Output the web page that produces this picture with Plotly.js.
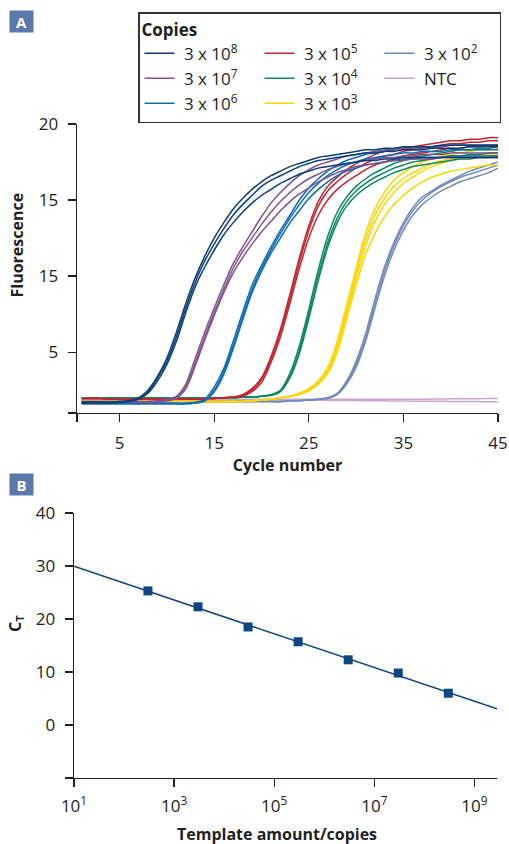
<!DOCTYPE html>
<html>
<head>
<meta charset="utf-8">
<script src="https://cdn.plot.ly/plotly-3.0.1.min.js"></script>
<style>
  html, body { margin: 0; padding: 0; background: #fff; }
  #chart { width: 509px; height: 844px; }
</style>
</head>
<body>
<div id="chart"></div>
<script>
// ---------- Panel A data: amplification plots (fluorescence vs cycle) ----------
const cycles = [1,2,3,4,5,6,7,8,9,10,11,12,13,14,15,16,17,18,19,20,21,22,23,24,25,26,27,28,29,30,31,32,33,34,35,36,37,38,39,40,41,42,43,44,45];

const copies3e8 = [
  [1.7,1.7,1.7,1.7,1.75,1.8,2.0,2.5,3.4,4.6,6.3,8.2,9.9,11.3,12.5,13.5,14.4,15.1,15.7,16.2,16.6,16.9,17.2,17.4,17.6,17.8,17.9,18.0,18.1,18.2,18.3,18.3,18.4,18.4,18.5,18.5,18.5,18.5,18.6,18.6,18.6,18.6,18.6,18.6,18.6],
  [1.7,1.7,1.7,1.7,1.75,1.8,1.95,2.4,3.3,4.4,6.0,7.9,9.6,11.0,12.1,13.1,14.0,14.7,15.3,15.9,16.3,16.6,16.9,17.2,17.4,17.6,17.7,17.8,17.9,18.0,18.1,18.1,18.2,18.2,18.3,18.3,18.3,18.4,18.4,18.4,18.4,18.5,18.5,18.5,18.5],
  [1.65,1.65,1.65,1.65,1.7,1.75,1.9,2.3,3.1,4.2,5.7,7.6,9.3,10.6,11.7,12.7,13.5,14.2,14.8,15.3,15.7,16.1,16.4,16.7,16.9,17.1,17.2,17.3,17.4,17.5,17.6,17.6,17.7,17.7,17.8,17.8,17.8,17.8,17.8,17.8,17.8,17.8,17.8,17.8,17.8]
];
const copies3e7 = [
  [1.75,1.75,1.75,1.75,1.75,1.75,1.75,1.75,1.8,1.9,2.1,2.9,4.6,6.3,7.9,9.4,10.8,11.9,12.9,13.9,14.8,15.5,16.1,16.6,17.0,17.3,17.5,17.7,17.9,18.0,18.1,18.2,18.3,18.3,18.4,18.4,18.5,18.5,18.5,18.6,18.6,18.6,18.6,18.6,18.6],
  [1.7,1.7,1.7,1.7,1.7,1.7,1.7,1.7,1.75,1.85,2.0,2.7,4.3,6.0,7.6,9.1,10.5,11.6,12.5,13.4,14.2,14.9,15.5,16.0,16.4,16.7,17.0,17.2,17.4,17.5,17.6,17.7,17.8,17.8,17.9,17.9,18.0,18.0,18.0,18.1,18.1,18.1,18.1,18.1,18.1],
  [1.7,1.7,1.7,1.7,1.7,1.7,1.7,1.7,1.7,1.8,1.95,2.6,4.1,5.8,7.4,8.9,10.2,11.2,12.1,12.9,13.6,14.3,14.9,15.4,15.8,16.2,16.5,16.8,17.0,17.2,17.3,17.4,17.5,17.6,17.6,17.7,17.7,17.7,17.8,17.8,17.8,17.8,17.8,17.8,17.8]
];
const copies3e6 = [
  [1.65,1.65,1.65,1.65,1.65,1.65,1.65,1.65,1.65,1.65,1.65,1.65,1.7,1.9,2.7,3.9,5.7,7.6,9.4,10.7,11.9,13.0,14.0,15.0,15.8,16.4,16.9,17.3,17.6,17.8,18.0,18.1,18.2,18.3,18.4,18.4,18.5,18.5,18.5,18.6,18.6,18.6,18.6,18.6,18.6],
  [1.6,1.6,1.6,1.6,1.6,1.6,1.6,1.6,1.6,1.6,1.6,1.6,1.65,1.8,2.5,3.7,5.4,7.3,9.1,10.5,11.7,12.8,13.8,14.7,15.5,16.1,16.6,17.0,17.3,17.5,17.7,17.8,17.9,18.0,18.1,18.1,18.2,18.2,18.2,18.3,18.3,18.3,18.3,18.3,18.3],
  [1.6,1.6,1.6,1.6,1.6,1.6,1.6,1.6,1.6,1.6,1.6,1.6,1.65,1.8,2.4,3.5,5.2,7.1,8.9,10.3,11.5,12.5,13.5,14.3,15.1,15.7,16.2,16.6,16.9,17.1,17.3,17.4,17.5,17.6,17.7,17.7,17.8,17.8,17.8,17.9,17.9,17.9,17.9,17.9,17.9]
];
const copies3e5 = [
  [1.95,1.95,1.95,1.9,1.9,1.9,1.9,1.9,1.9,1.9,1.9,1.9,1.9,1.95,1.95,2.0,2.05,2.2,2.6,3.3,4.7,6.5,8.8,11.2,13.3,14.9,15.9,16.5,17.0,17.4,17.7,18.0,18.2,18.3,18.4,18.5,18.6,18.7,18.8,18.9,18.9,19.0,19.0,19.1,19.1],
  [1.95,1.95,1.95,1.9,1.9,1.9,1.9,1.9,1.9,1.9,1.9,1.9,1.9,1.95,1.95,2.0,2.05,2.15,2.5,3.2,4.5,6.3,8.5,10.9,13.0,14.6,15.6,16.2,16.7,17.1,17.4,17.7,17.9,18.0,18.2,18.3,18.4,18.5,18.6,18.7,18.7,18.8,18.8,18.9,18.9],
  [1.95,1.95,1.95,1.9,1.9,1.9,1.9,1.9,1.9,1.9,1.9,1.9,1.9,1.95,1.95,2.0,2.05,2.1,2.4,3.0,4.3,6.0,8.2,10.5,12.5,14.0,15.0,15.7,16.2,16.6,17.0,17.3,17.5,17.7,17.9,18.0,18.1,18.2,18.3,18.4,18.4,18.5,18.5,18.6,18.6]
];
const copies3e4 = [
  [2.0,2.0,2.0,2.0,2.0,2.0,2.0,2.0,2.0,2.0,2.0,2.0,2.0,2.0,2.0,2.0,2.0,2.05,2.05,2.1,2.2,2.5,3.6,5.4,7.8,10.4,12.6,14.2,15.2,15.9,16.4,16.8,17.1,17.4,17.6,17.8,17.9,18.0,18.1,18.2,18.3,18.3,18.4,18.4,18.5],
  [2.0,2.0,2.0,2.0,2.0,2.0,2.0,2.0,2.0,2.0,2.0,2.0,2.0,2.0,2.0,2.0,2.0,2.05,2.05,2.1,2.2,2.45,3.4,5.1,7.5,10.0,12.2,13.8,14.9,15.6,16.1,16.5,16.8,17.1,17.3,17.5,17.6,17.7,17.8,17.9,17.9,18.0,18.0,18.1,18.1],
  [2.0,2.0,2.0,2.0,2.0,2.0,2.0,2.0,2.0,2.0,2.0,2.0,2.0,2.0,2.0,2.0,2.0,2.05,2.05,2.1,2.15,2.4,3.3,4.9,7.2,9.7,11.9,13.5,14.6,15.3,15.8,16.2,16.5,16.8,17.0,17.2,17.3,17.4,17.5,17.6,17.7,17.7,17.8,17.8,17.9]
];
const copies3e3 = [
  [1.75,1.75,1.75,1.75,1.75,1.75,1.75,1.75,1.75,1.75,1.75,1.75,1.75,1.75,1.75,1.75,1.75,1.75,1.8,1.85,1.9,2.0,2.1,2.3,2.6,3.1,4.0,5.7,8.1,10.5,12.8,14.4,15.5,16.3,16.8,17.2,17.5,17.7,17.9,18.0,18.1,18.2,18.3,18.3,18.4],
  [1.75,1.75,1.75,1.75,1.75,1.75,1.75,1.75,1.75,1.75,1.75,1.75,1.75,1.75,1.75,1.75,1.75,1.75,1.8,1.85,1.9,2.0,2.1,2.25,2.5,3.0,3.8,5.4,7.8,10.2,12.4,14.0,15.1,15.9,16.4,16.8,17.1,17.4,17.6,17.7,17.8,17.9,18.0,18.0,18.1],
  [1.75,1.75,1.75,1.75,1.75,1.75,1.75,1.75,1.75,1.75,1.75,1.75,1.75,1.75,1.75,1.75,1.75,1.75,1.8,1.85,1.9,2.0,2.1,2.25,2.5,2.95,3.7,5.2,7.5,9.8,12.0,13.6,14.7,15.5,16.1,16.5,16.9,17.2,17.4,17.6,17.7,17.8,17.9,17.9,18.0],
  [1.75,1.75,1.75,1.75,1.75,1.75,1.75,1.75,1.75,1.75,1.75,1.75,1.75,1.75,1.75,1.75,1.75,1.75,1.8,1.85,1.9,2.0,2.1,2.2,2.45,2.9,3.6,5.0,7.2,9.4,11.4,12.8,13.9,14.7,15.3,15.8,16.2,16.5,16.7,16.9,17.0,17.1,17.2,17.3,17.3]
];
const copies3e2 = [
  [1.75,1.75,1.75,1.75,1.75,1.75,1.75,1.75,1.75,1.75,1.75,1.75,1.75,1.75,1.75,1.75,1.75,1.75,1.75,1.75,1.75,1.75,1.8,1.8,1.85,1.9,2.0,2.3,3.1,4.4,6.2,8.5,10.6,12.2,13.5,14.5,15.2,15.6,16.0,16.3,16.6,16.9,17.1,17.3,17.5],
  [1.75,1.75,1.75,1.75,1.75,1.75,1.75,1.75,1.75,1.75,1.75,1.75,1.75,1.75,1.75,1.75,1.75,1.75,1.75,1.75,1.75,1.75,1.8,1.8,1.85,1.9,2.0,2.25,3.0,4.2,5.9,8.2,10.3,12.0,13.3,14.3,15.0,15.5,15.9,16.2,16.5,16.7,16.9,17.1,17.3],
  [1.75,1.75,1.75,1.75,1.75,1.75,1.75,1.75,1.75,1.75,1.75,1.75,1.75,1.75,1.75,1.75,1.75,1.75,1.75,1.75,1.75,1.75,1.8,1.8,1.85,1.9,1.95,2.2,2.9,4.0,5.7,7.9,10.0,11.7,13.0,14.0,14.7,15.2,15.6,15.9,16.2,16.4,16.6,16.8,17.1]
];
const copiesNTC = [
  [1.9,1.9,1.9,1.9,1.9,1.9,1.9,1.9,1.9,1.9,1.9,1.9,1.9,1.9,1.9,1.9,1.9,1.9,1.9,1.9,1.9,1.9,1.9,1.9,1.9,1.9,1.9,1.9,1.9,1.9,1.9,1.9,1.9,1.9,1.9,1.9,1.9,1.92,1.92,1.93,1.93,1.94,1.94,1.95,1.95],
  [1.85,1.85,1.85,1.85,1.85,1.85,1.85,1.85,1.85,1.85,1.85,1.85,1.85,1.85,1.85,1.85,1.85,1.85,1.85,1.85,1.85,1.85,1.85,1.85,1.84,1.84,1.83,1.83,1.82,1.82,1.81,1.8,1.8,1.79,1.79,1.78,1.78,1.77,1.77,1.76,1.76,1.75,1.75,1.74,1.74]
];

const seriesNames = ['3 x 10<sup>8</sup>','3 x 10<sup>7</sup>','3 x 10<sup>6</sup>','3 x 10<sup>5</sup>','3 x 10<sup>4</sup>','3 x 10<sup>3</sup>','3 x 10<sup>2</sup>','NTC'];
const seriesData = [copies3e8, copies3e7, copies3e6, copies3e5, copies3e4, copies3e3, copies3e2, copiesNTC];
const seriesColors = ['#0b3f78','#82528f','#0a6cb8','#c3262f','#0b8a5c','#ffd400','#6f8bbb','#c6a8c8'];
// legend laid out column-wise in the reference (3 per row, row-major ranks)
const legendRanks = [1, 4, 7, 2, 5, 8, 3, 6];
const drawOrder = [7, 6, 5, 4, 3, 2, 1, 0];

const xTickValsA = [5, 15, 25, 35, 45];
const xTickTextA = ['5', '15', '25', '35', '45'];
const yTickValsA = [5, 10, 15, 20];
const yTickTextA = ['5', '15', '15', '20'];

// ---------- Panel B data: standard curve ----------
const templateCopies = [3e2, 3e3, 3e4, 3e5, 3e6, 3e7, 3e8];
const ctValues = [25.3, 22.3, 18.5, 15.7, 12.3, 9.8, 6.0];
const xTickValsB = [1e1, 1e3, 1e5, 1e7, 1e9];
const xTickTextB = ['10<sup>1</sup>', '10<sup>3</sup>', '10<sup>5</sup>', '10<sup>7</sup>', '10<sup>9</sup>'];
const yTickValsB = [0, 10, 20, 30, 40];
const yTickTextB = ['0', '10', '20', '30', '40'];

// ---------- build ----------
const FONT = 'Open Sans, Liberation Sans, sans-serif';
const INK = '#231f20';
const NAVY = '#0b4680';
const NBSP = '\u00a0';
const traces = [];

drawOrder.forEach(function (gi) {
  seriesData[gi].forEach(function (rep, ri) {
    traces.push({
      type: 'scatter', mode: 'lines',
      x: cycles, y: rep,
      xaxis: 'x', yaxis: 'y',
      name: NBSP + seriesNames[gi],
      legendgroup: 'g' + gi,
      legendrank: legendRanks[gi],
      showlegend: ri === 0,
      line: { color: seriesColors[gi], width: 1.5, shape: 'spline', smoothing: 0.8 },
      hoverinfo: 'skip'
    });
  });
});

// least-squares fit of Ct vs log10(copies)
const lx = templateCopies.map(function (v) { return Math.log10(v); });
const n = lx.length;
const mx = lx.reduce(function (a, b) { return a + b; }, 0) / n;
const my = ctValues.reduce(function (a, b) { return a + b; }, 0) / n;
let sxy = 0, sxx = 0;
for (let i = 0; i < n; i++) { sxy += (lx[i] - mx) * (ctValues[i] - my); sxx += (lx[i] - mx) * (lx[i] - mx); }
const slope = sxy / sxx;
const intercept = my - slope * mx;
const xRangeB = [1, 9.45];
const fitX = xRangeB.map(function (l) { return Math.pow(10, l); });
const fitY = xRangeB.map(function (l) { return intercept + slope * l; });

traces.push({
  type: 'scatter', mode: 'lines', x: fitX, y: fitY,
  xaxis: 'x2', yaxis: 'y2', showlegend: false,
  line: { color: NAVY, width: 1.5 }, hoverinfo: 'skip'
});
traces.push({
  type: 'scatter', mode: 'markers', x: templateCopies, y: ctValues,
  xaxis: 'x2', yaxis: 'y2', showlegend: false,
  marker: { symbol: 'square', size: 9, color: NAVY }
});

const W = 509, H = 844, ML = 60, MR = 10;
const PW = W - ML - MR;
function px(x) { return (x - ML) / PW; }
function py(y) { return 1 - y / H; }

const axisCommon = {
  showline: true, linecolor: INK, linewidth: 1.3,
  ticks: 'outside', ticklen: 8, tickwidth: 1.3, tickcolor: INK,
  showgrid: false, zeroline: false,
  tickfont: { family: FONT, size: 17, color: INK },
  tickmode: 'array', fixedrange: true
};
function cornerTick(vals) {
  return { tickmode: 'array', tickvals: vals, ticks: 'outside', ticklen: 8, tickwidth: 1.3, tickcolor: INK, showgrid: false };
}

const layout = {
  width: W, height: H,
  margin: { l: ML, r: MR, t: 0, b: 0, pad: 0 },
  paper_bgcolor: '#ffffff', plot_bgcolor: '#ffffff',
  font: { family: FONT, color: INK },
  showlegend: true,
  legend: {
    orientation: 'h',
    x: px(138), xanchor: 'left',
    y: py(12), yanchor: 'top',
    bgcolor: '#ffffff', bordercolor: '#333333', borderwidth: 1.5,
    entrywidth: 75, entrywidthmode: 'pixels',
    traceorder: 'normal',
    font: { family: FONT, size: 17, color: INK },
    title: { text: '<b>Copies</b>', side: 'top', font: { family: FONT, size: 17, color: INK } }
  },
  xaxis: Object.assign({}, axisCommon, {
    domain: [px(77), px(498)], range: [0.5, 45], anchor: 'y',
    tickvals: xTickValsA, ticktext: xTickTextA, ticklabelstandoff: 6,
    minor: cornerTick([0.5]),
    title: { text: '<b>Cycle number</b>', font: { family: FONT, size: 16, color: INK }, standoff: 6 }
  }),
  yaxis: Object.assign({}, axisCommon, {
    domain: [py(413), py(124)], range: [1, 20], anchor: 'x',
    tickvals: yTickValsA, ticktext: yTickTextA, ticklabelstandoff: 6,
    minor: cornerTick([1])
  }),
  xaxis2: Object.assign({}, axisCommon, {
    type: 'log', domain: [px(74), px(497)], range: xRangeB, anchor: 'y2',
    tickvals: xTickValsB, ticktext: xTickTextB, ticklabelstandoff: 4
  }),
  yaxis2: Object.assign({}, axisCommon, {
    domain: [py(778), py(513)], range: [-10, 40], anchor: 'x2',
    tickvals: yTickValsB, ticktext: yTickTextB, ticklabelstandoff: 6,
    minor: cornerTick([-10])
  }),
  annotations: [
    { text: '<b>Fluorescence</b>', xref: 'paper', yref: 'paper', x: px(16.5), y: py(245),
      xanchor: 'center', yanchor: 'middle', textangle: -90, showarrow: false,
      font: { family: FONT, size: 16, color: INK } },
    { text: '<b>C<sub>T</sub></b>', xref: 'paper', yref: 'paper', x: px(15), y: py(624),
      xanchor: 'center', yanchor: 'middle', textangle: -90, showarrow: false,
      font: { family: FONT, size: 16, color: INK } },
    { text: '<b>Template amount/copies</b>', xref: 'paper', yref: 'paper', x: px(276.5), y: py(834),
      xanchor: 'center', yanchor: 'middle', showarrow: false,
      font: { family: FONT, size: 16, color: INK } },
    { text: '<b>A</b>', xref: 'paper', yref: 'paper', x: px(21.5), y: py(21.5),
      xanchor: 'center', yanchor: 'middle', showarrow: false,
      bgcolor: '#5a78ac', width: 23, height: 21, borderpad: 0,
      font: { family: FONT, size: 15, color: '#ffffff' } },
    { text: '<b>B</b>', xref: 'paper', yref: 'paper', x: px(21.5), y: py(484),
      xanchor: 'center', yanchor: 'middle', showarrow: false,
      bgcolor: '#5a78ac', width: 23, height: 21, borderpad: 0,
      font: { family: FONT, size: 15, color: '#ffffff' } }
  ]
};

Plotly.newPlot('chart', traces, layout, { staticPlot: true, displayModeBar: false });
</script>
</body>
</html>
